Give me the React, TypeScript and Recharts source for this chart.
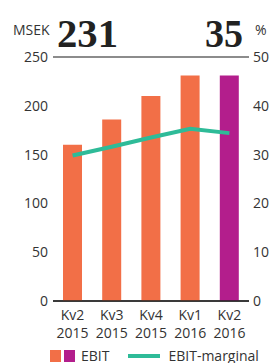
import React from "react";
import {
  ComposedChart,
  Bar,
  Line,
  Cell,
  XAxis,
  YAxis,
  CartesianGrid,
  ReferenceLine,
} from "recharts";

const quarters = ["Kv2", "Kv3", "Kv4", "Kv1", "Kv2"];
const years = ["2015", "2015", "2015", "2016", "2016"];
const ebit = [160, 186, 210, 231, 231];
const margin = [29.8, 31.6, 33.5, 35.3, 34.4];
const leftTicks = [0, 50, 100, 150, 200, 250];
const rightTicks = [0, 10, 20, 30, 40, 50];

const ORANGE = "#f26f47";
const PURPLE = "#b31e8c";
const GREEN = "#2ebb98";
const FONT = "'Open Sans', 'Noto Sans', sans-serif";
const SERIF = "'Liberation Serif', 'Times New Roman', serif";

const data = quarters.map((q, i) => ({
  key: i,
  quarter: q,
  year: years[i],
  ebit: ebit[i],
  margin: margin[i],
}));

function QuarterTick(props: any) {
  const { x, payload } = props;
  const row = data[payload.value];
  // the zero line sits at y = 301
  return (
    <text x={x} y={301} textAnchor="middle" fill="#333" fontSize={14} fontFamily={FONT}>
      <tspan x={x} dy={19}>{row.quarter}</tspan>
      <tspan x={x} dy={18}>{row.year}</tspan>
    </text>
  );
}

export default function App() {
  return (
    <div style={{ position: "absolute", left: 0, top: 0, width: 269, height: 363, overflow: "hidden", background: "#fff" }}>
      <svg width={269} height={56} style={{ position: "absolute", left: 0, top: 0 }}>
        <text x={13} y={35} fontFamily={FONT} fontSize={14} fill="#333">MSEK</text>
        <text x={57} y={47} fontFamily={SERIF} fontWeight={700} fontSize={41} fill="#222" textLength={61} lengthAdjust="spacingAndGlyphs">
          231
        </text>
        <text x={205} y={47} fontFamily={SERIF} fontWeight={700} fontSize={41} fill="#222" textLength={38} lengthAdjust="spacingAndGlyphs">
          35
        </text>
        <text x={255} y={35} fontFamily={FONT} fontSize={14} fill="#333">%</text>
      </svg>

      <ComposedChart width={269} height={363} data={data} margin={{ top: 57, right: 0, bottom: 0, left: 0 }}>
        <CartesianGrid horizontal vertical={false} stroke="#5a5a5a" strokeWidth={1.5} />
        <XAxis dataKey="key" height={62} axisLine={false} tickLine={false} tickSize={0} tick={<QuarterTick />} interval={0} />
        <YAxis
          yAxisId="left"
          width={53}
          domain={[0, 250]}
          ticks={leftTicks}
          axisLine={false}
          tickLine={false}
          tickSize={0}
          tickMargin={5}
          tick={{ fill: "#333", fontSize: 14, fontFamily: FONT }}
        />
        <YAxis
          yAxisId="right"
          orientation="right"
          width={20}
          domain={[0, 50]}
          ticks={rightTicks}
          axisLine={false}
          tickLine={false}
          tickSize={0}
          tickMargin={4}
          tick={{ fill: "#333", fontSize: 14, fontFamily: FONT, textAnchor: "start" }}
        />
        <ReferenceLine yAxisId="left" y={250} stroke="#8c8c8c" strokeWidth={2} />
        <Bar yAxisId="left" dataKey="ebit" barSize={19} isAnimationActive={false}>
          {data.map((d, i) => (
            <Cell key={i} fill={i === data.length - 1 ? PURPLE : ORANGE} />
          ))}
        </Bar>
        <ReferenceLine yAxisId="left" y={0} stroke="#222" strokeWidth={1.5} />
        <Line
          yAxisId="right"
          dataKey="margin"
          type="linear"
          stroke={GREEN}
          strokeWidth={4}
          dot={false}
          isAnimationActive={false}
        />
      </ComposedChart>

      <div style={{ position: "absolute", left: 50, top: 346, height: 19, display: "flex", alignItems: "center", fontFamily: FONT, fontSize: 14, lineHeight: "19px", color: "#333", whiteSpace: "nowrap" }}>
        <span style={{ width: 11, height: 12, background: ORANGE, display: "inline-block" }} />
        <span style={{ width: 11, height: 12, background: PURPLE, display: "inline-block", marginLeft: 3 }} />
        <span style={{ marginLeft: 6 }}>EBIT</span>
        <span style={{ width: 32, height: 4, background: GREEN, display: "inline-block", marginLeft: 19 }} />
        <span style={{ marginLeft: 8 }}>EBIT-marginal</span>
      </div>
    </div>
  );
}
